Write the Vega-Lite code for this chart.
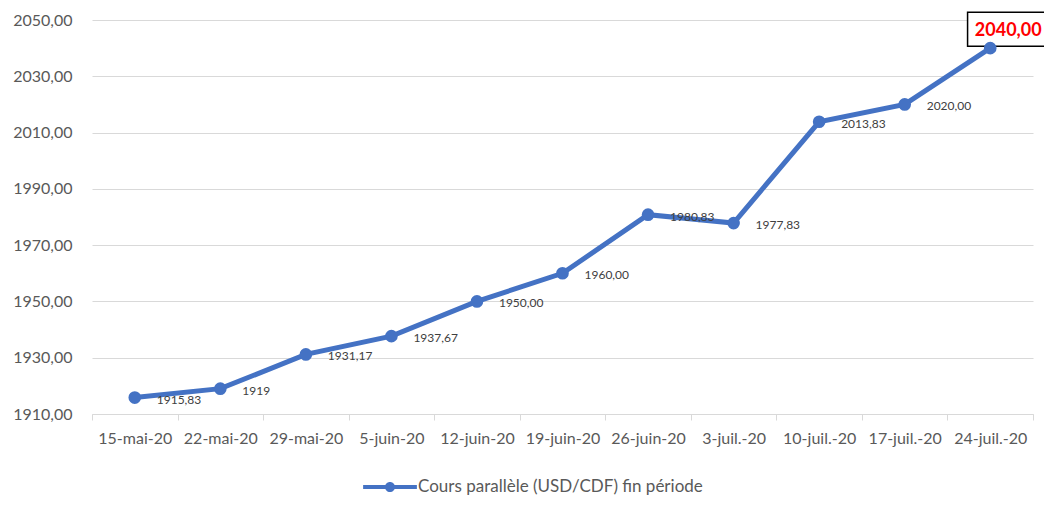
{
  "$schema": "https://vega.github.io/schema/vega-lite/v6.json",
  "width": 941,
  "height": 394,
  "autosize": {"type": "none"},
  "padding": {"left": 92, "top": 20, "right": 11, "bottom": 98},
  "background": "white",
  "config": {"view": {"stroke": null}, "font": "Lato"},
  "data": {
    "values": [
      {"date": "15-mai-20", "value": 1915.83, "label": "1915,83", "serie": "Cours parallèle (USD/CDF) fin période"},
      {"date": "22-mai-20", "value": 1919, "label": "1919", "serie": "Cours parallèle (USD/CDF) fin période"},
      {"date": "29-mai-20", "value": 1931.17, "label": "1931,17", "serie": "Cours parallèle (USD/CDF) fin période"},
      {"date": "5-juin-20", "value": 1937.67, "label": "1937,67", "serie": "Cours parallèle (USD/CDF) fin période"},
      {"date": "12-juin-20", "value": 1950, "label": "1950,00", "serie": "Cours parallèle (USD/CDF) fin période"},
      {"date": "19-juin-20", "value": 1960, "label": "1960,00", "serie": "Cours parallèle (USD/CDF) fin période"},
      {"date": "26-juin-20", "value": 1980.83, "label": "1980,83", "serie": "Cours parallèle (USD/CDF) fin période"},
      {"date": "3-juil.-20", "value": 1977.83, "label": "1977,83", "serie": "Cours parallèle (USD/CDF) fin période"},
      {"date": "10-juil.-20", "value": 2013.83, "label": "2013,83", "serie": "Cours parallèle (USD/CDF) fin période"},
      {"date": "17-juil.-20", "value": 2020, "label": "2020,00", "serie": "Cours parallèle (USD/CDF) fin période"},
      {"date": "24-juil.-20", "value": 2040, "label": "2040,00", "serie": "Cours parallèle (USD/CDF) fin période"}
    ]
  },
  "encoding": {
    "x": {
      "field": "date",
      "type": "ordinal",
      "sort": ["15-mai-20", "22-mai-20", "29-mai-20", "5-juin-20", "12-juin-20", "19-juin-20", "26-juin-20", "3-juil.-20", "10-juil.-20", "17-juil.-20", "24-juil.-20"],
      "bandPosition": 0.5,
      "scale": {"type": "band", "paddingInner": 0, "paddingOuter": 0},
      "axis": {
        "title": null,
        "labelAngle": 0,
        "tickBand": "extent",
        "ticks": true,
        "tickSize": 6,
        "tickColor": "#d9d9d9",
        "domainColor": "#d9d9d9",
        "grid": false,
        "labelPadding": 10,
        "labelFontSize": 16,
        "labelColor": "#595959",
        "labelFont": "Lato"
      }
    },
    "y": {
      "field": "value",
      "type": "quantitative",
      "scale": {"domain": [1910, 2050], "nice": false, "zero": false},
      "axis": {
        "title": null,
        "values": [1910, 1930, 1950, 1970, 1990, 2010, 2030, 2050],
        "labelExpr": "replace(format(datum.value, '.2f'), '.', ',')",
        "grid": true,
        "gridColor": "#d9d9d9",
        "gridWidth": 1,
        "domain": false,
        "ticks": false,
        "labelPadding": 20,
        "labelFontSize": 16,
        "labelColor": "#595959",
        "labelFont": "Lato"
      }
    }
  },
  "layer": [
    {
      "transform": [{"filter": "datum.date === '24-juil.-20'"}],
      "mark": {
        "type": "point",
        "shape": "M-2.45,-1H2.45V1H-2.45Z",
        "size": 1156,
        "filled": true,
        "fill": "white",
        "stroke": "black",
        "strokeWidth": 1.5,
        "opacity": 1,
        "fillOpacity": 1,
        "xOffset": 19,
        "yOffset": -19
      }
    },
    {
      "mark": {"type": "line", "strokeWidth": 5},
      "encoding": {
        "color": {
          "field": "serie",
          "type": "nominal",
          "scale": {"range": ["#4472C4"]},
          "legend": {
            "title": null,
            "orient": "none",
            "legendX": 270,
            "legendY": 439,
            "padding": 0,
            "symbolType": "M-0.96,-0.07H0.96V0.07H-0.96Z M0.18,0A0.18,0.18 0 1 1 -0.18,0A0.18,0.18 0 1 1 0.18,0Z",
            "symbolSize": 3136,
            "labelOffset": 0,
            "labelLimit": 0,
            "labelFontSize": 17,
            "labelColor": "#595959",
            "labelFont": "Lato",
            "symbolStrokeWidth": 0,
            "symbolFillColor": "#4472C4",
            "encode": {
              "symbols": {
                "update": {
                  "fill": {"value": "#4472C4"},
                  "stroke": {"value": "transparent"},
                  "strokeWidth": {"value": 0},
                  "opacity": {"value": 1}
                }
              }
            }
          }
        }
      }
    },
    {
      "mark": {"type": "point", "filled": true, "size": 160, "color": "#4472C4", "opacity": 1}
    },
    {
      "transform": [{"filter": "datum.date !== '24-juil.-20'"}],
      "mark": {"type": "text", "align": "left", "baseline": "middle", "dx": 22, "dy": 2, "fontSize": 12, "color": "#404040", "font": "Lato"},
      "encoding": {"text": {"field": "label", "type": "nominal"}}
    },
    {
      "transform": [{"filter": "datum.date === '24-juil.-20'"}],
      "mark": {"type": "text", "align": "center", "baseline": "middle", "dx": 18, "dy": -17, "fontSize": 18, "fontWeight": "bold", "color": "#ff0000", "font": "Lato"},
      "encoding": {"text": {"field": "label", "type": "nominal"}}
    }
  ]
}
